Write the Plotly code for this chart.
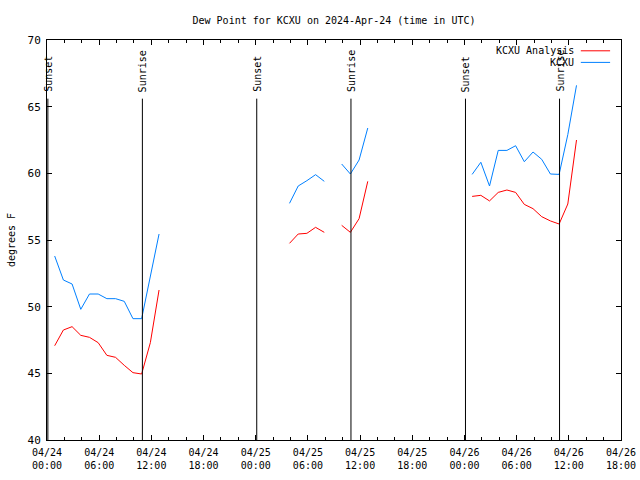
import plotly.graph_objects as go

# ---- data ----
day1_hours = ["00:53", "01:53", "02:53", "03:53", "04:53", "05:53", "06:53",
              "07:53", "08:53", "09:53", "10:53", "11:53", "12:53"]
day2_hours = ["03:53", "04:53", "05:53", "06:53", "07:53", "08:53",
              "09:53", "10:53", "11:53", "12:53"]

times = ([f"2024-04-24 {h}" for h in day1_hours] + ["2024-04-24 13:53"] +
         [f"2024-04-25 {h}" for h in day2_hours] + ["2024-04-25 13:53"] +
         [f"2024-04-26 {h}" for h in day1_hours])

kcxu = ([53.8, 52.0, 51.7, 49.8, 50.95, 50.95, 50.6, 50.6, 50.4, 49.1, 49.1, 52.3, 55.45] + [None] +
        [57.75, 59.05, 59.45, 59.9, 59.4, None, 60.7, 59.95, 61.0, 63.4] + [None] +
        [59.92, 60.83, 59.05, 61.72, 61.72, 62.07, 60.87, 61.6, 61.05, 59.95, 59.92, 62.9, 66.6])

analysis = ([47.07, 48.25, 48.5, 47.85, 47.7, 47.3, 46.35, 46.2, 45.6, 45.05, 44.95, 47.3, 51.25] + [None] +
            [54.75, 55.45, 55.5, 55.95, 55.575, None, 56.1, 55.575, 56.6, 59.4] + [None] +
            [58.27, 58.35, 57.93, 58.57, 58.75, 58.57, 57.67, 57.35, 56.75, 56.43, 56.2, 57.7, 62.5])

event_times = ["2024-04-24 00:06", "2024-04-24 10:58", "2024-04-25 00:07",
               "2024-04-25 10:57", "2024-04-26 00:07", "2024-04-26 10:56"]
event_labels = ["Sunset", "Sunrise", "Sunset", "Sunrise", "Sunset", "Sunrise"]

series_names = ["KCXU Analysis", "KCXU"]
series_colors = ["#ff0000", "#0080ff"]

FONT = "DejaVu Sans Mono"

fig = go.Figure()
fig.add_trace(go.Scatter(x=times, y=analysis, mode="lines", name=series_names[0],
                         line=dict(color=series_colors[0], width=1), connectgaps=False))
fig.add_trace(go.Scatter(x=times, y=kcxu, mode="lines", name=series_names[1],
                         line=dict(color=series_colors[1], width=1), connectgaps=False))

shapes = []
annotations = []
for t, lab in zip(event_times, event_labels):
    shapes.append(dict(type="line", xref="x", yref="y", x0=t, x1=t, y0=40, y1=65.6,
                       line=dict(color="black", width=1)))
    annotations.append(dict(x=t, y=65.95, xref="x", yref="y", text=lab, textangle=-90,
                            showarrow=False, xanchor="center", yanchor="bottom",
                            font=dict(family=FONT, size=10, color="black")))

# gnuplot-style legend (text left, sample right)
leg_y = [0.973, 0.944]
for name, col, yy in zip(series_names, series_colors, leg_y):
    annotations.append(dict(x=0.922, y=yy, xref="paper", yref="paper", text=name,
                            showarrow=False, xanchor="right", yanchor="middle",
                            font=dict(family=FONT, size=10, color="black")))
    shapes.append(dict(type="line", xref="paper", yref="paper", x0=0.930, x1=0.981,
                       y0=yy, y1=yy, line=dict(color=col, width=1)))

fig.update_layout(
    width=640, height=480,
    margin=dict(l=47, r=19, t=40, b=40, autoexpand=False),
    paper_bgcolor="white", plot_bgcolor="white",
    showlegend=False,
    font=dict(family=FONT, size=10, color="black"),
    title=dict(text="Dew Point for KCXU on 2024-Apr-24 (time in UTC)", x=0.5, xref="paper",
               y=0.958, yref="container", yanchor="middle",
               font=dict(family=FONT, size=10, color="black")),
    shapes=shapes, annotations=annotations,
)
fig.update_xaxes(type="date", range=["2024-04-24 00:00", "2024-04-26 18:00"],
                 dtick=6 * 3600 * 1000, tick0="2024-04-24 00:00",
                 tickformat="%m/%d<br>%H:%M", ticks="inside", ticklen=5, tickcolor="black",
                 minor=dict(dtick=2 * 3600 * 1000, ticks="inside", ticklen=3, tickcolor="black"),
                 showline=True, linecolor="black", linewidth=1, mirror="ticks",
                 showgrid=False, zeroline=False, automargin=False, ticklabelstandoff=3,
                 tickfont=dict(family=FONT, size=10, color="black"))
fig.update_yaxes(range=[40, 70], dtick=5, ticks="inside", ticklen=5, tickcolor="black",
                 showline=True, linecolor="black", linewidth=1, mirror="ticks",
                 showgrid=False, zeroline=False, automargin=False, ticklabelstandoff=3,
                 title=dict(text="degrees F", standoff=10, font=dict(family=FONT, size=10)),
                 tickfont=dict(family=FONT, size=11, color="black"))

fig.write_html("out.html", config={"displayModeBar": False},
               post_script="document.body.style.margin='0';")
